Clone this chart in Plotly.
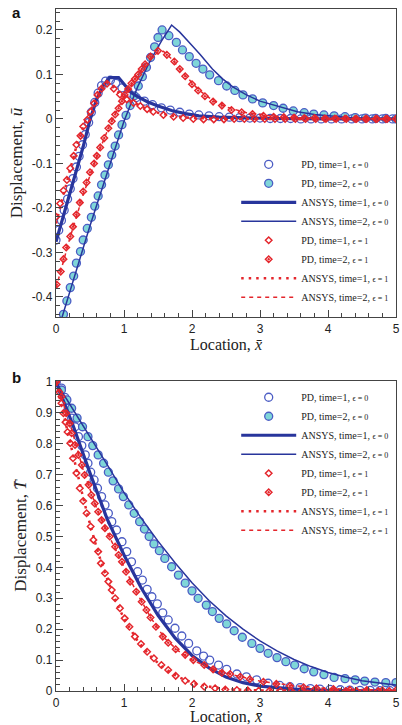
import plotly.graph_objects as go
from plotly.subplots import make_subplots

# ---------------- Panel a : displacement ----------------
a_pd_t1_e0_x = [0.0, 0.04, 0.08, 0.12, 0.17, 0.21, 0.25, 0.30, 0.34, 0.39, 0.43, 0.48, 0.52, 0.57, 0.62, 0.67, 0.73,
                0.80, 0.88, 0.97, 1.07, 1.18, 1.30, 1.42, 1.55, 1.68, 1.82, 1.96, 2.10, 2.25, 2.40, 2.55, 2.70, 2.85,
                3.00, 3.15, 3.30, 3.45, 3.60, 3.75, 3.90, 4.05, 4.20, 4.35, 4.50, 4.65, 4.80, 4.95]
a_pd_t1_e0_u = [-0.272, -0.250, -0.228, -0.205, -0.180, -0.157, -0.134, -0.108, -0.084, -0.058, -0.035, -0.008, 0.015,
                0.037, 0.058, 0.075, 0.085, 0.087, 0.080, 0.070, 0.058, 0.048, 0.040, 0.032, 0.025, 0.020, 0.015, 0.011,
                0.009, 0.007, 0.005, 0.004, 0.003, 0.002, 0.002, 0.001, 0.001, 0.001, 0.0, 0.0, 0.0, 0.0, 0.0, 0.0,
                0.0, 0.0, 0.0, 0.0]

a_pd_t2_e0_x = [0.11, 0.16, 0.21, 0.26, 0.30, 0.36, 0.40, 0.46, 0.52, 0.57, 0.62, 0.67, 0.72, 0.77, 0.82, 0.87, 0.92,
                0.97, 1.03, 1.09, 1.15, 1.21, 1.27, 1.33, 1.39, 1.45, 1.50, 1.56, 1.66, 1.77, 1.86, 1.96, 2.06, 2.16,
                2.26, 2.39, 2.51, 2.63, 2.75, 2.89, 3.04, 3.20, 3.34, 3.49, 3.65, 3.79, 3.94, 4.09, 4.25, 4.40, 4.55,
                4.70, 4.85, 5.00]
a_pd_t2_e0_u = [-0.439, -0.409, -0.379, -0.353, -0.324, -0.298, -0.272, -0.246, -0.221, -0.196, -0.173, -0.148, -0.126,
                -0.103, -0.081, -0.061, -0.036, -0.013, 0.008, 0.030, 0.052, 0.074, 0.095, 0.116, 0.138, 0.162, 0.183,
                0.200, 0.187, 0.172, 0.155, 0.140, 0.125, 0.112, 0.099, 0.086, 0.074, 0.064, 0.054, 0.045, 0.036, 0.030,
                0.024, 0.018, 0.014, 0.011, 0.009, 0.007, 0.005, 0.003, 0.002, 0.001, 0.001, 0.0]

a_ansys_t1_e0_x = [0.0, 0.1, 0.2, 0.3, 0.4, 0.5, 0.6, 0.7, 0.79, 0.92, 1.0, 1.1, 1.2, 1.35, 1.5, 1.7, 1.9, 2.1, 2.4,
                   2.8, 3.2, 4.0, 5.0]
a_ansys_t1_e0_u = [-0.276, -0.222, -0.170, -0.118, -0.062, -0.002, 0.045, 0.076, 0.093, 0.093, 0.078, 0.060, 0.050,
                   0.038, 0.029, 0.019, 0.012, 0.007, 0.004, 0.002, 0.001, 0.0, 0.0]

a_ansys_t2_e0_x = [0.0, 0.1, 0.5, 1.0, 1.2, 1.38, 1.55, 1.70, 1.82, 2.0, 2.12, 2.3, 2.45, 2.6, 2.8, 3.0, 3.3, 3.55,
                   3.8, 4.05, 4.3, 4.6, 5.0]
a_ansys_t2_e0_u = [-0.49, -0.44, -0.24, -0.005, 0.072, 0.129, 0.175, 0.211, 0.195, 0.165, 0.145, 0.112, 0.090, 0.072,
                   0.054, 0.040, 0.026, 0.016, 0.010, 0.006, 0.003, 0.001, 0.0]

a_pd_t1_e1_x = [0.0, 0.06, 0.11, 0.16, 0.21, 0.26, 0.30, 0.36, 0.40, 0.46, 0.51, 0.56, 0.61, 0.67, 0.75, 0.85, 0.94,
                1.04, 1.14, 1.24, 1.34, 1.43, 1.58, 1.73, 1.87, 2.02, 2.17, 2.32, 2.47, 2.62, 2.77, 2.92, 3.07, 3.22,
                3.37, 3.52, 3.67, 3.82, 3.97, 4.12, 4.27, 4.42, 4.57, 4.72, 4.87, 5.0]
a_pd_t1_e1_u = [-0.220, -0.190, -0.161, -0.137, -0.111, -0.083, -0.058, -0.038, -0.017, -0.002, 0.016, 0.035, 0.054,
                0.068, 0.079, 0.068, 0.055, 0.044, 0.036, 0.029, 0.022, 0.016, 0.009, 0.005, 0.002, 0.0, -0.001,
                -0.001, -0.001, 0.0, 0.0, 0.0, 0.0, 0.0, 0.0, 0.0, 0.0, 0.0, 0.0, 0.0, 0.0, 0.0, 0.0, 0.0, 0.0, 0.0]

a_pd_t2_e1_x = [0.01, 0.07, 0.11, 0.15, 0.21, 0.25, 0.30, 0.35, 0.40, 0.45, 0.50, 0.56, 0.60, 0.65, 0.71, 0.77, 0.82,
                0.87, 0.92, 0.97, 1.01, 1.06, 1.11, 1.16, 1.21, 1.26, 1.31, 1.39, 1.50, 1.63, 1.74, 1.82, 1.90, 2.00,
                2.09, 2.19, 2.31, 2.44, 2.58, 2.73, 2.89, 3.05, 3.20, 3.35, 3.50, 3.65, 3.80, 3.95, 4.10, 4.25, 4.40,
                4.55, 4.70, 4.85, 5.0]
a_pd_t2_e1_u = [-0.372, -0.343, -0.315, -0.289, -0.264, -0.242, -0.215, -0.188, -0.163, -0.143, -0.120, -0.100, -0.083,
                -0.064, -0.043, -0.021, -0.005, 0.010, 0.024, 0.040, 0.054, 0.067, 0.080, 0.090, 0.100, 0.112, 0.123,
                0.140, 0.153, 0.144, 0.129, 0.112, 0.096, 0.078, 0.064, 0.051, 0.039, 0.030, 0.020, 0.015, 0.011,
                0.007, 0.005, 0.004, 0.003, 0.002, 0.002, 0.001, 0.001, 0.001, 0.0, 0.0, 0.0, 0.0, 0.0]

a_ansys_t1_e1_x = [0.0, 0.1, 0.2, 0.3, 0.4, 0.5, 0.6, 0.7, 0.76, 0.85, 0.95, 1.1, 1.3, 1.5, 1.7, 2.0, 2.5, 3.0, 4.0, 5.0]
a_ansys_t1_e1_u = [-0.235, -0.175, -0.118, -0.062, -0.018, 0.016, 0.050, 0.074, 0.082, 0.070, 0.055, 0.040, 0.025,
                   0.014, 0.007, 0.002, 0.0, 0.0, 0.0, 0.0]

a_ansys_t2_e1_x = [0.0, 0.2, 0.4, 0.6, 0.8, 1.0, 1.2, 1.35, 1.5, 1.58, 1.7, 1.9, 2.1, 2.3, 2.5, 2.8, 3.2, 3.6, 4.0, 5.0]
a_ansys_t2_e1_u = [-0.380, -0.270, -0.170, -0.085, -0.010, 0.050, 0.098, 0.130, 0.150, 0.152, 0.135, 0.098, 0.065,
                   0.042, 0.027, 0.014, 0.006, 0.002, 0.001, 0.0]

# ---------------- Panel b : temperature ----------------
b_pd_t1_e0_x = [0.0, 0.08, 0.13, 0.18, 0.23, 0.28, 0.33, 0.38, 0.43, 0.47, 0.51, 0.56, 0.61, 0.67, 0.72, 0.77, 0.82,
                0.89, 0.97, 1.04, 1.11, 1.20, 1.27, 1.34, 1.41, 1.49, 1.57, 1.65, 1.75, 1.85, 1.95, 2.07, 2.17, 2.26,
                2.39, 2.51, 2.66, 2.80, 2.95, 3.12, 3.29, 3.44, 3.59, 3.74, 3.88, 4.03, 4.18, 4.32, 4.47, 4.62, 4.76,
                4.91]
b_pd_t1_e0_T = [1.0, 0.980, 0.950, 0.915, 0.883, 0.855, 0.823, 0.794, 0.764, 0.737, 0.708, 0.683, 0.656, 0.629, 0.602,
                0.575, 0.548, 0.521, 0.483, 0.451, 0.418, 0.386, 0.359, 0.329, 0.305, 0.282, 0.253, 0.230, 0.203,
                0.178, 0.154, 0.130, 0.113, 0.100, 0.084, 0.070, 0.055, 0.046, 0.036, 0.025, 0.018, 0.014, 0.011,
                0.008, 0.006, 0.005, 0.004, 0.003, 0.002, 0.002, 0.001, 0.001]

b_pd_t2_e0_x = [0.0, 0.08, 0.16, 0.23, 0.31, 0.39, 0.47, 0.54, 0.62, 0.70, 0.77, 0.84, 0.92, 0.99, 1.07, 1.15, 1.23,
                1.30, 1.37, 1.44, 1.52, 1.60, 1.70, 1.80, 1.90, 2.00, 2.09, 2.21, 2.30, 2.40, 2.51, 2.62, 2.74, 2.88,
                3.00, 3.12, 3.25, 3.38, 3.51, 3.65, 3.79, 3.94, 4.09, 4.25, 4.40, 4.54, 4.69, 4.85, 5.0]
b_pd_t2_e0_T = [1.0, 0.974, 0.942, 0.915, 0.883, 0.855, 0.823, 0.794, 0.764, 0.737, 0.708, 0.680, 0.654, 0.629, 0.602,
                0.575, 0.548, 0.524, 0.500, 0.476, 0.454, 0.429, 0.402, 0.375, 0.349, 0.324, 0.300, 0.278, 0.257,
                0.235, 0.217, 0.195, 0.174, 0.154, 0.138, 0.122, 0.108, 0.095, 0.084, 0.072, 0.062, 0.053, 0.044,
                0.040, 0.036, 0.032, 0.029, 0.027, 0.027]

b_ansys_t1_e0_x = [0.0, 0.25, 0.5, 0.75, 1.0, 1.25, 1.5, 1.75, 2.0, 2.25, 2.5, 2.75, 3.0, 3.5, 4.0, 4.5, 5.0]
b_ansys_t1_e0_T = [1.0, 0.860, 0.705, 0.558, 0.440, 0.335, 0.245, 0.172, 0.115, 0.075, 0.045, 0.027, 0.016, 0.006,
                   0.002, 0.001, 0.0]

b_ansys_t2_e0_x = [0.0, 0.25, 0.5, 0.75, 1.0, 1.25, 1.5, 1.75, 2.0, 2.25, 2.5, 2.75, 3.0, 3.25, 3.5, 3.75, 4.0, 4.25,
                   4.5, 4.75, 5.0]
b_ansys_t2_e0_T = [1.0, 0.912, 0.822, 0.733, 0.642, 0.560, 0.485, 0.415, 0.350, 0.293, 0.243, 0.200, 0.162, 0.130,
                   0.102, 0.079, 0.060, 0.045, 0.033, 0.025, 0.019]

b_pd_t1_e1_x = [0.0, 0.05, 0.08, 0.11, 0.14, 0.17, 0.21, 0.25, 0.30, 0.35, 0.40, 0.45, 0.51, 0.55, 0.62, 0.66, 0.72,
                0.77, 0.82, 0.87, 0.94, 1.01, 1.08, 1.16, 1.25, 1.34, 1.44, 1.55, 1.65, 1.76, 1.90, 2.03, 2.18, 2.34,
                2.49, 2.66, 2.82, 2.98, 3.14, 3.30, 3.46, 3.62, 3.78, 3.94, 4.10, 4.26, 4.42, 4.58, 4.74, 4.90]
b_pd_t1_e1_T = [1.0, 0.967, 0.931, 0.899, 0.870, 0.838, 0.802, 0.753, 0.705, 0.656, 0.615, 0.575, 0.532, 0.489, 0.451,
                0.413, 0.381, 0.354, 0.327, 0.300, 0.268, 0.235, 0.208, 0.176, 0.152, 0.127, 0.106, 0.084, 0.068,
                0.049, 0.033, 0.023, 0.014, 0.009, 0.005, 0.003, 0.002, 0.001, 0.001, 0.0, 0.0, 0.0, 0.0, 0.0, 0.0,
                0.0, 0.0, 0.0, 0.0, 0.0]

b_pd_t2_e1_x = [0.0, 0.08, 0.15, 0.20, 0.23, 0.28, 0.33, 0.38, 0.42, 0.48, 0.52, 0.57, 0.62, 0.67, 0.72, 0.79, 0.87,
                0.92, 0.97, 1.03, 1.09, 1.18, 1.26, 1.33, 1.39, 1.47, 1.57, 1.65, 1.76, 1.90, 2.02, 2.18, 2.31, 2.44,
                2.56, 2.71, 2.85, 3.05, 3.24, 3.44, 3.64, 3.83, 4.08, 4.32, 4.57, 4.80, 5.0]
b_pd_t2_e1_T = [1.0, 0.952, 0.899, 0.866, 0.834, 0.796, 0.764, 0.731, 0.699, 0.667, 0.634, 0.607, 0.580, 0.553, 0.527,
                0.500, 0.467, 0.440, 0.418, 0.386, 0.354, 0.321, 0.289, 0.262, 0.238, 0.208, 0.176, 0.156, 0.135,
                0.117, 0.100, 0.084, 0.070, 0.059, 0.055, 0.046, 0.038, 0.030, 0.023, 0.016, 0.012, 0.009, 0.006,
                0.004, 0.003, 0.002, 0.002]

b_ansys_t1_e1_x = [0.0, 0.1, 0.2, 0.3, 0.4, 0.5, 0.6, 0.7, 0.8, 0.9, 1.0, 1.2, 1.4, 1.6, 1.8, 2.0, 2.3, 2.6, 3.0, 3.5,
                   4.0, 5.0]
b_ansys_t1_e1_T = [1.0, 0.905, 0.812, 0.715, 0.625, 0.540, 0.462, 0.393, 0.333, 0.280, 0.235, 0.162, 0.110, 0.072,
                   0.045, 0.027, 0.012, 0.005, 0.002, 0.0, 0.0, 0.0]

b_ansys_t2_e1_x = [0.0, 0.2, 0.4, 0.6, 0.8, 1.0, 1.2, 1.4, 1.6, 1.8, 2.0, 2.3, 2.6, 3.0, 3.5, 4.0, 4.5, 5.0]
b_ansys_t2_e1_T = [1.0, 0.870, 0.715, 0.590, 0.492, 0.400, 0.313, 0.235, 0.170, 0.130, 0.100, 0.072, 0.052, 0.032,
                   0.017, 0.008, 0.004, 0.002]

# ---------------- ticks & labels ----------------
x_tickvals = [0, 1, 2, 3, 4, 5]
x_ticktext = ["0", "1", "2", "3", "4", "5"]
a_y_tickvals = [-0.4, -0.3, -0.2, -0.1, 0.0, 0.1, 0.2]
a_y_ticktext = ["-0.4", "-0.3", "-0.2", "-0.1", "0", "0.1", "0.2"]
b_y_tickvals = [0, 0.1, 0.2, 0.3, 0.4, 0.5, 0.6, 0.7, 0.8, 0.9, 1.0]
b_y_ticktext = ["0", "0.1", "0.2", "0.3", "0.4", "0.5", "0.6", "0.7", "0.8", "0.9", "1"]

eps = "<span style='font-size:8px'>ϵ = %s</span>"
names = [
    "PD, time=1, " + eps % "0",
    "PD, time=2, " + eps % "0",
    "ANSYS, time=1, " + eps % "0",
    "ANSYS, time=2, " + eps % "0",
    "PD, time=1, " + eps % "1",
    "PD, time=2, " + eps % "1",
    "ANSYS, time=1, " + eps % "1",
    "ANSYS, time=2, " + eps % "1",
]

BLUE = "#28359c"
CIRC = "#4b5cc4"
CYAN = "#7fd6d8"
RED = "#e4262c"

fig = make_subplots(rows=2, cols=1, vertical_spacing=0.0)


def add_panel(row, leg, d):
    (p1x, p1y, p2x, p2y, l1x, l1y, l2x, l2y, q1x, q1y, q2x, q2y, m1x, m1y, m2x, m2y) = d
    fig.add_trace(go.Scatter(x=p1x, y=p1y, mode="markers", name=names[0], legend=leg,
                             marker=dict(symbol="circle-open", size=8, color=CIRC, line=dict(width=1.3))),
                  row=row, col=1)
    fig.add_trace(go.Scatter(x=p2x, y=p2y, mode="markers", name=names[1], legend=leg,
                             marker=dict(symbol="circle", size=8, color=CYAN, line=dict(width=1.3, color=CIRC))),
                  row=row, col=1)
    fig.add_trace(go.Scatter(x=l1x, y=l1y, mode="lines", name=names[2], legend=leg,
                             line=dict(color=BLUE, width=3.2)), row=row, col=1)
    fig.add_trace(go.Scatter(x=l2x, y=l2y, mode="lines", name=names[3], legend=leg,
                             line=dict(color=BLUE, width=1.5)), row=row, col=1)
    fig.add_trace(go.Scatter(x=q1x, y=q1y, mode="markers", name=names[4], legend=leg,
                             marker=dict(symbol="diamond-open", size=5, color=RED, line=dict(width=1.5))),
                  row=row, col=1)
    fig.add_trace(go.Scatter(x=q2x, y=q2y, mode="markers", name=names[5], legend=leg,
                             marker=dict(symbol="diamond-open-dot", size=5, color=RED, line=dict(width=1.5))),
                  row=row, col=1)
    fig.add_trace(go.Scatter(x=m1x, y=m1y, mode="lines", name=names[6], legend=leg,
                             line=dict(color=RED, width=2.5, dash="2.5px,5px")), row=row, col=1)
    fig.add_trace(go.Scatter(x=m2x, y=m2y, mode="lines", name=names[7], legend=leg,
                             line=dict(color=RED, width=1.5, dash="4px,4px")), row=row, col=1)


add_panel(1, "legend", (a_pd_t1_e0_x, a_pd_t1_e0_u, a_pd_t2_e0_x, a_pd_t2_e0_u,
                        a_ansys_t1_e0_x, a_ansys_t1_e0_u, a_ansys_t2_e0_x, a_ansys_t2_e0_u,
                        a_pd_t1_e1_x, a_pd_t1_e1_u, a_pd_t2_e1_x, a_pd_t2_e1_u,
                        a_ansys_t1_e1_x, a_ansys_t1_e1_u, a_ansys_t2_e1_x, a_ansys_t2_e1_u))
add_panel(2, "legend2", (b_pd_t1_e0_x, b_pd_t1_e0_T, b_pd_t2_e0_x, b_pd_t2_e0_T,
                         b_ansys_t1_e0_x, b_ansys_t1_e0_T, b_ansys_t2_e0_x, b_ansys_t2_e0_T,
                         b_pd_t1_e1_x, b_pd_t1_e1_T, b_pd_t2_e1_x, b_pd_t2_e1_T,
                         b_ansys_t1_e1_x, b_ansys_t1_e1_T, b_ansys_t2_e1_x, b_ansys_t2_e1_T))

SANS = "Liberation Sans, Arial, sans-serif"
SERIF = "Liberation Serif, Times New Roman, serif"

axis_common = dict(showgrid=False, zeroline=False, showline=True, mirror=True, linecolor="#444444", linewidth=1.4,
                   ticks="inside", ticklen=7, tickwidth=1.2, tickcolor="#444444", automargin=False,
                   ticklabeloverflow="allow",
                   tickfont=dict(family=SANS, size=12, color="#222222"))

x_common = dict(axis_common, range=[0, 5], tickvals=x_tickvals, ticktext=x_ticktext,
                minor=dict(dtick=0.2, tick0=0, ticklen=4, tickwidth=1, tickcolor="#444444", ticks="inside"),
                title=dict(text="Location, <i>x̄</i>", font=dict(family=SERIF, size=16, color="#222222"),
                           standoff=3))

fig.update_xaxes(x_common, row=1, col=1)
fig.update_xaxes(x_common, row=2, col=1)
fig.update_xaxes(domain=[0, 1])

fig.update_yaxes(axis_common, range=[-0.445, 0.247], tickvals=a_y_tickvals, ticktext=a_y_ticktext,
                 minor=dict(dtick=0.02, tick0=0, ticklen=4, tickwidth=1, tickcolor="#444444", ticks="inside"),
                 title=dict(text="Displacement, <i>ū</i>", font=dict(family=SERIF, size=17, color="#222222"),
                            standoff=4),
                 domain=[0.5484, 1.0], row=1, col=1)
fig.update_yaxes(axis_common, range=[0, 1.003], tickvals=b_y_tickvals, ticktext=b_y_ticktext,
                 minor=dict(dtick=0.02, tick0=0, ticklen=4, tickwidth=1, tickcolor="#444444", ticks="inside"),
                 title=dict(text="Displacement, <i>T̄</i>", font=dict(family=SERIF, size=17, color="#222222"),
                            standoff=4),
                 domain=[0.0, 0.4545], row=2, col=1)

legend_common = dict(font=dict(family=SERIF, size=10, color="#222222"), bgcolor="rgba(0,0,0,0)",
                     borderwidth=0, itemwidth=55, tracegroupgap=0, xanchor="left", x=0.53)

fig.update_layout(
    width=402, height=725,
    margin=dict(l=56, r=6, t=9, b=34, autoexpand=False),
    paper_bgcolor="white", plot_bgcolor="white",
    showlegend=True,
    legend=dict(legend_common, y=0.556, yanchor="bottom"),
    legend2=dict(legend_common, y=0.452, yanchor="top"),
    annotations=[
        dict(text="<b>a</b>", x=-0.115, y=0.9956, xref="paper", yref="paper", showarrow=False,
             font=dict(family=SANS, size=15, color="#111111"), xanchor="center", yanchor="middle"),
        dict(text="<b>b</b>", x=-0.115, y=0.459, xref="paper", yref="paper", showarrow=False,
             font=dict(family=SANS, size=15, color="#111111"), xanchor="center", yanchor="middle"),
    ],
)

# remove the browser's default 8px body margin so the figure fills the window exactly
fig.write_html("out.html", config={"displayModeBar": False},
               post_script="document.body.style.margin='0';")
